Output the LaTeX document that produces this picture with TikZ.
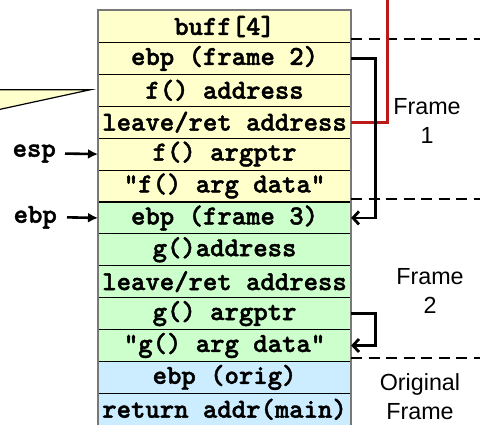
\documentclass[tikz,border=0pt]{standalone}
\usepackage{fontspec}
\setmainfont{Liberation Sans}
\newfontfamily\codefont{lmmonolt10-bold.otf}[FakeBold=1.6]
\usetikzlibrary{arrows.meta}
\definecolor{cyel}{HTML}{FFFFCC}
\definecolor{cgrn}{HTML}{CCFFCC}
\definecolor{cblu}{HTML}{CCECFF}
\definecolor{cred}{RGB}{190,25,25}
\definecolor{cgray}{RGB}{120,120,120}
\tikzset{
  monofont/.style={font=\fontsize{27.4}{29}\selectfont\codefont},
  cell/.style={monofont, draw=black, line width=1.1pt, minimum width=252pt, minimum height=31.9pt,
    inner sep=0pt, anchor=north west},
  yel/.style={cell, fill=cyel},
  grn/.style={cell, fill=cgrn},
  blu/.style={cell, fill=cblu},
  reglabel/.style={monofont, inner sep=0pt},
  ptr/.style={line width=2.6pt, -{Latex[length=10pt,width=10pt]}},
  bracket/.style={line width=2.8pt, -{Straight Barb[length=6pt,width=13pt,line width=2.8pt]}},
  redline/.style={line width=2.6pt, draw=cred},
  frameline/.style={line width=2.8pt, dash pattern=on 11pt off 6.5pt},
  framelabel/.style={font=\fontsize{23.3}{29}\selectfont, align=center, inner sep=0pt}
}
\begin{document}
\begin{tikzpicture}[x=1pt, y=-1pt]
\useasboundingbox (0,0) rectangle (480,424);
\clip (0,0) rectangle (480,424);
% callout
\fill[cyel] (-10,89.7) -- (90.5,89.7) -- (-10,111.5) -- cycle;
\draw[line width=1.2pt, line join=miter] (-10,89.7) -- (90.5,89.7) -- (-10,111.5);
% stack
\node[yel] (r1) at (98,10) {buff[4]};
\node[yel] (r2) at (98,41.9) {ebp (frame 2)};
\node[yel] (r3) at (98,73.8) {f() address};
\node[yel] (r4) at (98,105.7) {leave/ret address};
\node[yel] (r5) at (98,137.6) {f() argptr};
\node[yel] (r6) at (98,169.5) {"f() arg data"};
\node[grn] (r7) at (98,201.4) {ebp (frame 3)};
\node[grn] (r8) at (98,233.3) {g()address};
\node[grn] (r9) at (98,265.2) {leave/ret address};
\node[grn] (r10) at (98,297.1) {g() argptr};
\node[grn] (r11) at (98,329) {"g() arg data"};
\node[blu] (r12) at (98,360.9) {ebp (orig)};
\node[blu] (r13) at (98,392.8) {return addr(main)};
\draw[cgray, line width=1.3pt] (r1.north west) rectangle (r13.south east);
% frame separators
\coordinate (s1a) at (351,39); \coordinate (s1b) at (482,39);
\coordinate (s2a) at (351,199); \coordinate (s2b) at (482,199);
\coordinate (s3a) at (351,358); \coordinate (s3b) at (482,358);
\draw[frameline] (s1a) -- (s1b);
\draw[frameline] (s2a) -- (s2b);
\draw[frameline] (s3a) -- (s3b);
% red link
\coordinate (redtop) at (387.5,-3);
\draw[redline] (r4.east) -| (redtop);
% brackets
\draw[bracket] (r2.east) -- ++(24,0) |- (r7.east);
\draw[bracket] (r10.east) -- ++(24,0) |- (r11.east);
% frame labels
\node[framelabel] (f1) at (427,121) {Frame\\1};
\node[framelabel] (f2) at (430,291) {Frame\\2};
\node[framelabel] (f3) at (420,397) {Original\\Frame};
% registers
\node[reglabel, anchor=east] (esp) at (56,153.55) {esp};
\node[reglabel, anchor=east] (ebp) at (57,217.35) {ebp};
\draw[ptr] ([xshift=9pt]esp.east) -- (r5.west);
\draw[ptr] ([xshift=10pt]ebp.east) -- (r7.west);
\end{tikzpicture}
\end{document}
